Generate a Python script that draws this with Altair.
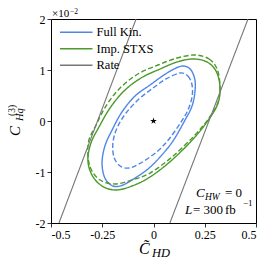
import altair as alt
import pandas as pd

# ---- data (x: C~_HD, y: C_Hq^(3) in units of 1e-2) ----
fk_solid_x = [0.149, 0.183, 0.202, 0.202, 0.188, 0.154, 0.095, 0.032, -0.027, -0.090, -0.149,
              -0.198, -0.237, -0.251, -0.237, -0.202, -0.154, -0.090, -0.017, 0.051, 0.110]
fk_solid_y = [1.078, 1.000, 0.804, 0.569, 0.294, 0.020, -0.392, -0.706, -0.941, -1.118, -1.255,
              -1.275, -1.118, -0.824, -0.490, -0.176, 0.176, 0.490, 0.706, 0.902, 1.039]

fk_dash_x = [0.129, 0.168, 0.188, 0.188, 0.168, 0.134, 0.080, 0.032, -0.017, -0.071, -0.120,
             -0.163, -0.193, -0.198, -0.178, -0.134, -0.071, -0.002, 0.061]
fk_dash_y = [0.941, 0.882, 0.706, 0.471, 0.216, -0.020, -0.333, -0.549, -0.706, -0.843, -0.922,
             -0.882, -0.706, -0.431, -0.137, 0.157, 0.431, 0.647, 0.824]

st_solid_x = [0.193, 0.261, 0.305, 0.324, 0.315, 0.271, 0.198, 0.090, -0.017, -0.105, -0.183,
              -0.251, -0.300, -0.320, -0.305, -0.266, -0.212, -0.144, -0.061, 0.032, 0.115]
st_solid_y = [1.216, 1.157, 0.980, 0.686, 0.353, 0.039, -0.333, -0.765, -1.098, -1.275, -1.353,
              -1.275, -1.059, -0.765, -0.431, -0.118, 0.255, 0.588, 0.843, 1.020, 1.157]

st_dash_x = [0.202, 0.271, 0.310, 0.324, 0.315, 0.271, 0.198, 0.090, -0.017, -0.105, -0.188,
             -0.261, -0.305, -0.320, -0.315, -0.285, -0.232, -0.163, -0.076, 0.022, 0.115]
st_dash_y = [1.294, 1.216, 1.020, 0.706, 0.373, 0.059, -0.294, -0.706, -1.020, -1.157, -1.235,
             -1.157, -0.941, -0.667, -0.373, -0.118, 0.294, 0.647, 0.922, 1.098, 1.235]

rate_left_x = [-0.461, -0.085]
rate_left_y = [-2.0, 2.0]
rate_right_x = [0.080, 0.461]
rate_right_y = [-2.0, 2.0]

star_x = [0.0]
star_y = [0.0]

series_names = ["Full Kin.", "Imp. STXS", "Rate"]
series_colors = ["#4f86e8", "#4b9a2a", "#777777"]

x_ticks = [-0.5, -0.25, 0, 0.25, 0.5]
x_tick_labels = ["-0.5", "-0.25", "0", "0.25", "0.5"]
y_ticks = [-2, -1.5, -1, -0.5, 0, 0.5, 1, 1.5, 2]
y_tick_labels = ["-2", "-1.5", "-1", "-0.5", "0", "0.5", "1", "1.5", "2"]

# ---- tables ----
rows = []
def add(name, style, cid, xs, ys):
    for i, (a, b) in enumerate(zip(xs, ys)):
        rows.append(dict(series=name, style=style, cid=cid, i=i, x=a, y=b))

add("Full Kin.", "solid", "fk_s", fk_solid_x, fk_solid_y)
add("Full Kin.", "dashed", "fk_d", fk_dash_x, fk_dash_y)
add("Imp. STXS", "solid", "st_s", st_solid_x, st_solid_y)
add("Imp. STXS", "dashed", "st_d", st_dash_x, st_dash_y)
contours = pd.DataFrame(rows)

rrows = []
for cid, xs, ys in [("l", rate_left_x, rate_left_y), ("r", rate_right_x, rate_right_y)]:
    for i, (a, b) in enumerate(zip(xs, ys)):
        rrows.append(dict(series="Rate", cid=cid, i=i, x=a, y=b))
rate = pd.DataFrame(rrows)

star = pd.DataFrame({"x": star_x, "y": star_y})
one = pd.DataFrame({"k": [0]})

def label_expr(vals, labs):
    expr = "''"
    for v, l in zip(reversed(vals), reversed(labs)):
        expr = f"abs(datum.value - ({v})) < 1e-9 ? '{l}' : ({expr})"
    return expr

FONT = "Liberation Serif"

xenc = alt.X("x:Q", scale=alt.Scale(domain=[-0.5, 0.5], nice=False, zero=False),
             axis=alt.Axis(values=x_ticks, labelExpr=label_expr(x_ticks, x_tick_labels), title=None))
yenc = alt.Y("y:Q", scale=alt.Scale(domain=[-2, 2], nice=False, zero=False),
             axis=alt.Axis(values=y_ticks, labelExpr=label_expr(y_ticks, y_tick_labels), title=None))

legend = alt.Legend(title=None, orient="none", legendX=19, legendY=7,
                    symbolType="M-6.5,0H6.5", symbolSize=25, symbolStrokeWidth=1.5,
                    labelFont=FONT, labelFontSize=12.5, labelColor="black",
                    labelOffset=14, rowPadding=3.5, padding=0)
color = alt.Color("series:N", scale=alt.Scale(domain=series_names, range=series_colors), legend=legend)

contour_layer = alt.Chart(contours).mark_line(interpolate="cardinal-closed", strokeWidth=1.4, clip=True).encode(
    x=xenc, y=yenc, color=color,
    strokeDash=alt.StrokeDash("style:N", scale=alt.Scale(domain=["solid", "dashed"], range=[[1, 0], [5, 2.5]]), legend=None),
    detail="cid:N", order="i:Q")

rate_layer = alt.Chart(rate).mark_line(strokeWidth=1.1, clip=True).encode(
    x="x:Q", y="y:Q", color=color, detail="cid:N", order="i:Q")

star_path = "M0,-1L0.2245,-0.309L0.951,-0.309L0.363,0.118L0.588,0.809L0,0.382L-0.588,0.809L-0.363,0.118L-0.951,-0.309L-0.2245,-0.309Z"
star_layer = alt.Chart(star).mark_point(shape=star_path, filled=True, color="black", size=49, opacity=1).encode(
    x="x:Q", y="y:Q")

def txt(t, x, y, size, italic=False, angle=0):
    kw = dict(text=t, fontSize=size, font=FONT, fontStyle="italic" if italic else "normal",
              align="left", baseline="alphabetic", color="black")
    if angle:
        kw["angle"] = angle
    return alt.Chart(one).mark_text(**kw).encode(x=alt.value(x), y=alt.value(y))

texts = [
    # x title
    txt("C\u0303", 88, 235, 16, italic=True),
    txt("HD", 101, 238, 12.5, italic=True),
    # y title (rotated)
    txt("C", -31, 117, 15, italic=True, angle=270),
    txt("Hq", -28, 102, 10.5, italic=True, angle=270),
    txt("(3)", -36, 97, 9.5, angle=270),
    # exponent
    txt("\u00d710", 1, -2.5, 11),
    txt("\u22122", 19, -5.5, 7.5),
    # annotations
    txt("C", 145, 178, 13, italic=True),
    txt("HW", 154, 180.5, 9.5, italic=True),
    txt("= 0", 174, 178, 13),
    txt("L", 134, 195, 13, italic=True),
    txt("= 300", 142, 195, 13),
    txt("fb", 174, 195, 13),
    txt("\u22121", 192, 187, 9),
]

chart = alt.layer(contour_layer, rate_layer, star_layer, *texts).properties(
    width=205, height=204,
    autosize=alt.AutoSizeParams(type="none"),
    padding={"left": 43, "top": 11, "right": 2, "bottom": 39},
).configure_view(stroke="black", strokeWidth=1).configure_axis(
    grid=False, domain=False, ticks=True, tickColor="black", tickWidth=0.8, tickSize=4,
    labelFont=FONT, labelFontSize=12, labelColor="black", labelPadding=2,
)

chart.save("out.html", embed_options={"renderer": "svg", "actions": False})
